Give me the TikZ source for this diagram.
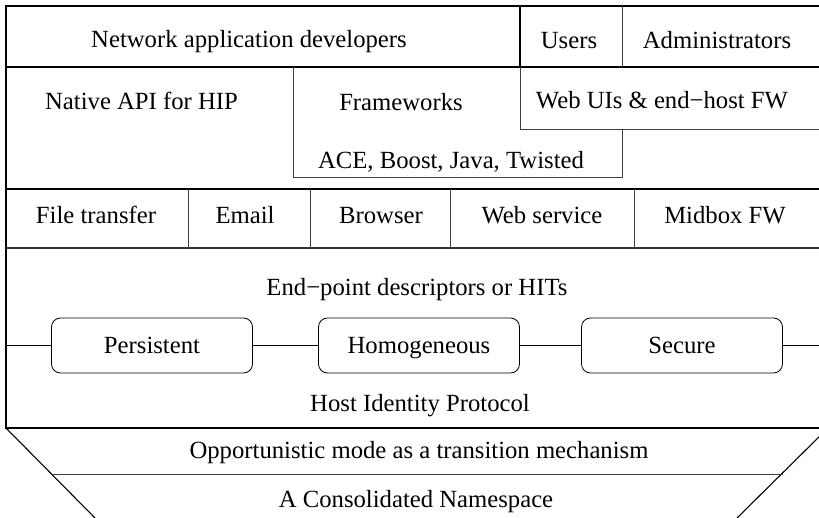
\documentclass[tikz,border=0pt]{standalone}
\usepackage{fontspec}
\setmainfont{Liberation Serif}
\begin{document}
\begin{tikzpicture}[x=1pt,y=-1pt,
  every node/.style={font=\fontsize{24.7}{28}\selectfont, inner sep=0pt,
    text height=16.3pt, text depth=0pt},
  frame/.style={line width=1.1pt, black},
  thinline/.style={line width=0.8pt, black!75},
  pill/.style={draw, line width=0.8pt, rounded corners=9pt,
    minimum width=201pt, minimum height=55pt},
  link/.style={line width=0.8pt}]
\useasboundingbox (0,0) rectangle (819,518);
\begin{scope}
\clip (0,0) rectangle (819,518);
% outer frame and horizontal bands
\draw[frame] (6,6) rectangle (828,428);
\draw[frame] (6,67) -- (828,67);
\draw[frame] (6,189) -- (828,189);
\draw[frame, black!80, line width=1.3pt] (6,248) -- (828,248);
% users box and inner application boxes
\draw[frame] (520,67) -- (520,6) -- (622,6);
\draw[thinline] (622,6) -- (622,67);
\draw[thinline] (293,67) -- (293,177.5) -- (622,177.5) -- (622,129);
\draw[thinline] (520,67) -- (520,129) -- (828,129);
% application dividers
\foreach \x in {188,310,450,634}
  \draw[thinline] (\x,189) -- (\x,248);
% namespace funnel
\draw[frame] (6,428) -- (95,518);
\draw[frame] (828,428) -- (737,518);
\draw[thinline] (50.5,474) -- (782.5,474);

% texts
\node (dev) at (249,39) {Network application developers};
\node (users) at (569,40) {Users};
\node (admin) at (717,40) {Administrators};
\node (native) at (141.5,101) {Native API for HIP};
\node (fw) at (401,102) {Frameworks};
\node (libs) at (451,160) {ACE, Boost, Java, Twisted};
\node (webui) at (662,100) {Web UIs \& end−host FW};
\node (ft) at (96,215) {File transfer};
\node (email) at (245,215) {Email};
\node (browser) at (381,215) {Browser};
\node (websvc) at (542,215) {Web service};
\node (midbox) at (725,215) {Midbox FW};
\node (hits) at (417,287) {End−point descriptors or HITs};
\node[pill] (pers) at (152,345.5) {Persistent};
\node[pill] (homo) at (419,345.5) {Homogeneous};
\node[pill] (sec) at (682,345.5) {Secure};
\coordinate (lend) at (6,345.5);
\coordinate (rend) at (828,345.5);
\draw[link] (lend) -- (pers);
\draw[link] (pers) -- (homo);
\draw[link] (homo) -- (sec);
\draw[link] (sec) -- (rend);
\node (hip) at (420,403.5) {Host Identity Protocol};
\node (opp) at (419,450) {Opportunistic mode as a transition mechanism};
\node (ns) at (416,499) {A Consolidated Namespace};
\end{scope}
\end{tikzpicture}
\end{document}
